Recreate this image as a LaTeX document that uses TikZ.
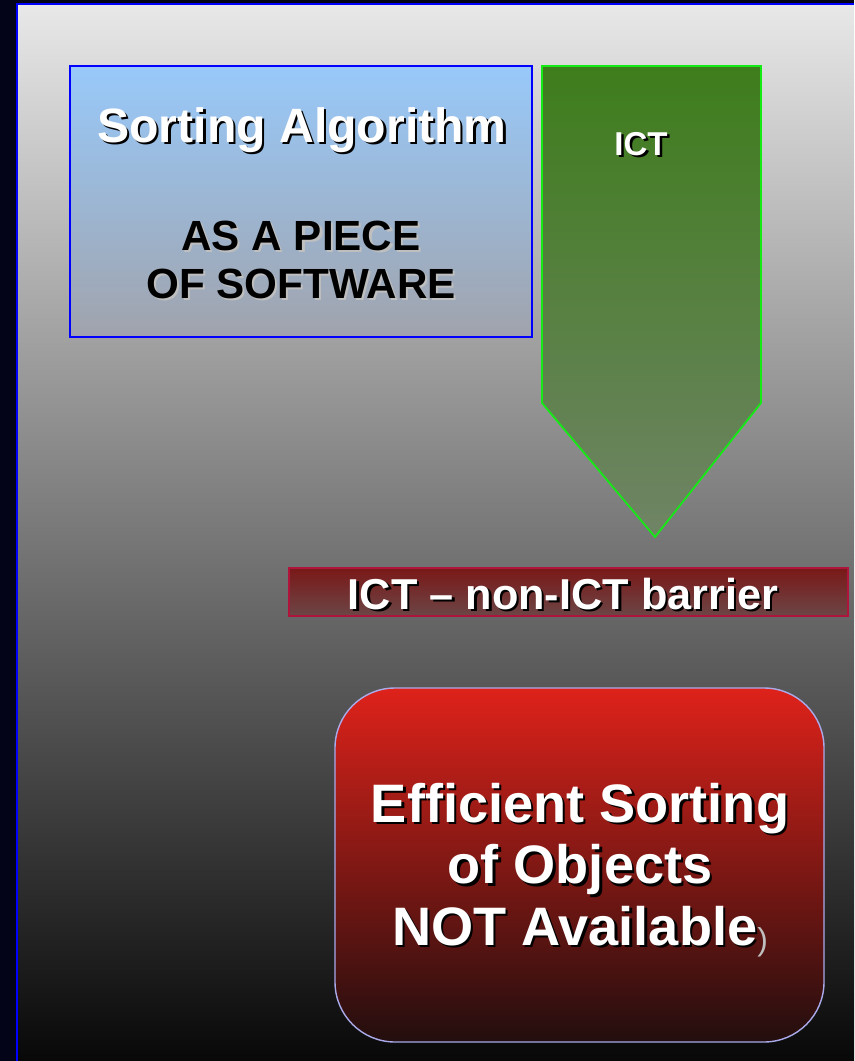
\documentclass[tikz,border=0pt]{standalone}
\usepackage{fontspec}
\setmainfont{Liberation Sans}
\usepackage{xcolor}
\usetikzlibrary{positioning}

\definecolor{frameNavy}{RGB}{4,4,24}
\definecolor{panelTop}{RGB}{232,232,232}
\definecolor{panelBottom}{RGB}{8,8,8}
\definecolor{algoTop}{RGB}{152,201,250}
\definecolor{algoBottom}{RGB}{160,163,172}
\definecolor{ictTop}{RGB}{62,125,28}
\definecolor{ictBottom}{RGB}{112,132,102}
\definecolor{ictLine}{RGB}{20,235,20}
\definecolor{barTop}{RGB}{122,24,24}
\definecolor{barBottom}{RGB}{108,70,70}
\definecolor{barLine}{RGB}{175,20,60}
\definecolor{effTop}{RGB}{222,34,26}
\definecolor{effMid}{RGB}{128,36,36}
\definecolor{effBottom}{RGB}{34,14,14}
\definecolor{effLine}{RGB}{170,170,235}

% white letters with a black drop shadow, black letters with a grey one
\newcommand{\shwhite}[1]{\makebox[0pt][l]{\hspace{0.7pt}\raisebox{-0.7pt}{\color{black}#1}}{\color{white}#1}}
\newcommand{\shblack}[1]{\makebox[0pt][l]{\hspace{0.6pt}\raisebox{-0.6pt}{\color{black!25}#1}}{\color{black}#1}}

\tikzset{
  label text/.style={align=center, inner sep=0pt},
}

\begin{document}
\begin{tikzpicture}[x=0.01cm, y=-0.01cm]
\useasboundingbox (0,0) rectangle (854,1061);

% background
{
\fill[frameNavy] (0,0) rectangle (854,1061);
\shade[top color=panelTop, bottom color=panelBottom] (17,4) rectangle (854,1061);
\draw[blue, line width=0.3pt] (17,1061)--(17,4)--(854,4);
}

% colors
{
\shade[top color=algoTop, bottom color=algoBottom] (70,66) rectangle (532,337);
\draw[blue, line width=0.4pt] (70,66) rectangle (532,337);

\shade[top color=ictTop, bottom color=ictBottom] (542,66)--++(219,0)--++(0,337)--(655,537)--(542,403)--cycle;
\draw[ictLine, line width=0.5pt] (542,66)--++(219,0)--++(0,337)--(655,537)--(542,403)--cycle;

\shade[top color=barTop, bottom color=barBottom] (289,568) rectangle (848,616);
\draw[barLine, line width=0.4pt] (289,568) rectangle (848,616);

\shade[top color=effTop, middle color=effMid, bottom color=effBottom, rounded corners=0.6cm] (335,688) rectangle (824,1042);
\draw[effLine, line width=0.4pt, rounded corners=0.6cm] (335,688) rectangle (824,1042);
}

% labellings
{
\node[label text, font=\bfseries\fontsize{13.7}{16}\selectfont] (algo) at (302,131)
{\shwhite{Sorting Algorithm}};

\node[label text, font=\bfseries\fontsize{12}{13.7}\selectfont] (piece) at (301,261)
{\shblack{AS A PIECE}\\\shblack{OF SOFTWARE}};

\node[label text, font=\bfseries\fontsize{9.4}{11}\selectfont] (ict) at (641,145)
{\shwhite{ICT}};

\node[label text, font=\bfseries\fontsize{12.3}{14}\selectfont] (barrier) at (563,595)
{\shwhite{ICT -- non-ICT barrier}};

\node[label text, font=\bfseries\fontsize{15.4}{17.5}\selectfont] (efficient) at (580,870)
{\shwhite{Efficient Sorting}\\\shwhite{of Objects}\\
\shwhite{NOT Available}{\mdseries\fontsize{9}{9}\selectfont\color{black!25}\raisebox{-1.5pt}{)}}};
}
\end{tikzpicture}
\end{document}
